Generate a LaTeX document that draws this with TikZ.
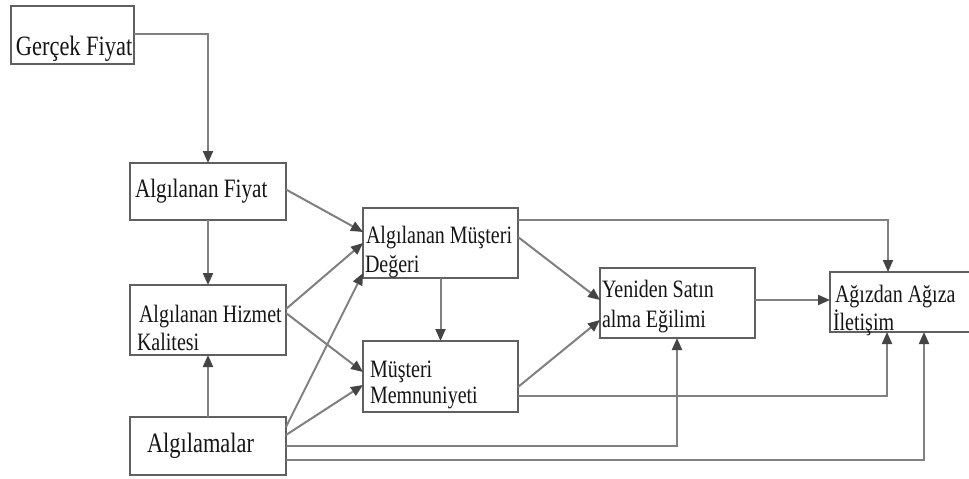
\documentclass[tikz,border=0pt]{standalone}
\usepackage{fontspec}
\setmainfont[FakeStretch=0.8]{Liberation Serif}
\usetikzlibrary{arrows.meta}
\definecolor{boxgray}{HTML}{606060}
\definecolor{linegray}{HTML}{808080}
\definecolor{tipgray}{HTML}{444444}
\definecolor{inkblack}{HTML}{151515}
\begin{document}
\begin{tikzpicture}[x=1pt,y=-1pt,
  box/.style={draw=boxgray, line width=2pt, fill=white, inner sep=0pt, outer sep=0pt, anchor=north west},
  txt/.style={inner sep=0pt, outer sep=0pt, anchor=base west, text=inkblack, font=\fontsize{25}{29}\selectfont},
  bigtxt/.style={txt, font=\fontsize{28}{32}\selectfont},
  conn/.style={draw=linegray, line width=2pt},
  arr/.style={conn, -{Triangle[length=12pt,width=10pt,color=tipgray]}}]
% page frame
\fill[white] (0,0) rectangle (969,479);
\useasboundingbox (0,0) rectangle (969,479);

% boxes
\node[box, minimum width=123pt, minimum height=58pt] (gf) at (11,6) {};
\node[box, minimum width=156pt, minimum height=57pt] (ap) at (130,163) {};
\node[box, minimum width=156pt, minimum height=70pt] (ahk) at (130,285) {};
\node[box, minimum width=156pt, minimum height=58pt] (alg) at (130,417) {};
\node[box, minimum width=155pt, minimum height=70pt] (amd) at (363,208) {};
\node[box, minimum width=155pt, minimum height=71pt] (mm) at (363,341) {};
\node[box, minimum width=155pt, minimum height=70pt] (yen) at (600,268) {};
\node[box, minimum width=141pt, minimum height=60pt] (ag) at (830,272) {};

% connectors
\draw[arr] ([yshift=-28pt]gf.north east) -| (ap.north);
\draw[arr] (ap.south) -- (ahk.north);
\draw[arr] (alg.north) -- (ahk.south);
\draw[arr] ([yshift=2pt]ap.east) -- ([yshift=-24pt]amd.north west);
\draw[arr] ([yshift=-24pt]ahk.north east) -- ([yshift=-35pt]amd.north west);
\draw[arr] ([yshift=-28pt]ahk.north east) -- ([yshift=-31pt]mm.north west);
\draw[arr] ([yshift=-10pt]alg.north east) -- ([yshift=-65pt]amd.north west);
\draw[arr] ([yshift=-18pt]alg.north east) -- ([yshift=-44pt]mm.north west);
\draw[arr] (amd.south) -- (mm.north);
\draw[arr] ([yshift=-29pt]amd.north east) -- ([yshift=-32pt]yen.north west);
\draw[arr] ([yshift=-46pt]mm.north east) -- ([yshift=-52pt]yen.north west);
\draw[arr] ([yshift=-32pt]yen.north east) -- ([yshift=-28pt]ag.north west);
\draw[arr] ([yshift=-12pt]amd.north east) -| ([xshift=58pt]ag.north west);
\draw[arr] ([yshift=-55pt]mm.north east) -| ([xshift=57pt]ag.south west);
\draw[arr] ([yshift=-29pt]alg.north east) -| ([xshift=77pt]yen.south west);
\draw[arr] ([yshift=-43pt]alg.north east) -| ([xshift=94pt]ag.south west);

% labels
\node[bigtxt] (gft) at (16,55) {Gerçek Fiyat};
\node[txt, font=\fontsize{26.5}{30}\selectfont] (apt) at (135,197) {Algılanan Fiyat};
\node[txt] (ahk1) at (139,322) {Algılanan Hizmet};
\node[txt] (ahk2) at (137,350) {Kalitesi};
\node[txt] (amd1) at (366,243) {Algılanan Müşteri};
\node[txt] (amd2) at (365,272) {Değeri};
\node[txt] (mm1) at (370,377) {Müşteri};
\node[txt] (mm2) at (370,403) {Memnuniyeti};
\node[txt] (yen1) at (602,297) {Yeniden Satın};
\node[txt] (yen2) at (602,327) {alma Eğilimi};
\node[txt] (ag1) at (835,302) {Ağızdan Ağıza};
\node[txt] (ag2) at (833,330) {İletişim};
\node[bigtxt] (algt) at (147,452) {Algılamalar};
\end{tikzpicture}
\end{document}
